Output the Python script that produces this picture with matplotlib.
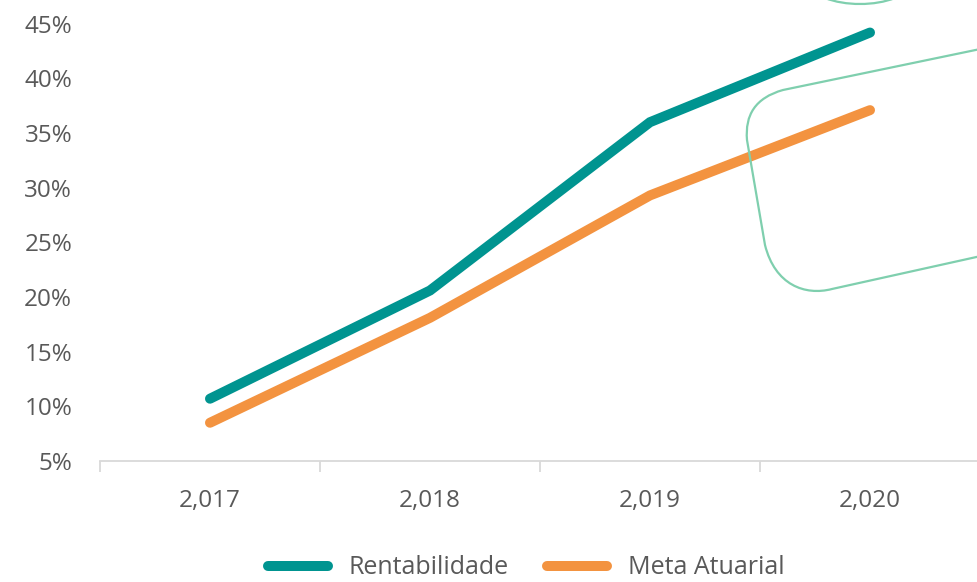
import matplotlib
matplotlib.use("Agg")
import matplotlib.pyplot as plt
from matplotlib.path import Path
from matplotlib.patches import PathPatch
import numpy as np

years = ["2,017", "2,018", "2,019", "2,020"]
rentabilidade = [10.7, 20.6, 36.0, 44.2]
meta_atuarial = [8.5, 18.1, 29.3, 37.1]
y_ticks = [5, 10, 15, 20, 25, 30, 35, 40, 45]

W, H = 978, 582
fig = plt.figure(figsize=(W / 100, H / 100), dpi=100)
ax = fig.add_axes([100 / W, (H - 461) / H, 880 / W, 461 / H])

teal = "#009490"
orange = "#F39340"
txt = "#595959"
font = "Open Sans"

x = np.arange(len(years))
ax.plot(x, rentabilidade, color=teal, lw=7.2, solid_capstyle="round",
        solid_joinstyle="miter", label="Rentabilidade", zorder=3)
ax.plot(x, meta_atuarial, color=orange, lw=7.2, solid_capstyle="round",
        solid_joinstyle="miter", label="Meta Atuarial", zorder=3)

ax.set_xlim(-0.5, len(years) - 0.5)
ax.set_ylim(5, 5 + 461 / 10.93)
ax.set_yticks(y_ticks)
ax.set_yticklabels([f"{v}%" for v in y_ticks], fontsize=17.5, color=txt, family=font)
ax.tick_params(axis="y", length=0, pad=20)

ax.set_xticks(np.arange(-0.5, len(years), 1.0))
ax.set_xticklabels([])
ax.tick_params(axis="x", which="major", length=8, color="#d9d9d9", width=1.3, direction="out")
ax.set_xticks(x, minor=True)
ax.set_xticklabels(years, minor=True, fontsize=17.5, color=txt, family=font)
ax.tick_params(axis="x", which="minor", length=0, pad=20)

for s in ["top", "right", "left"]:
    ax.spines[s].set_visible(False)
ax.spines["bottom"].set_color("#d9d9d9")
ax.spines["bottom"].set_linewidth(1.3)

# decorative rounded outlines (figure pixel coordinates)
def fpath(pts, codes):
    pts = [(px / W, 1 - py / H) for px, py in pts]
    return Path(pts, codes)

deco = "#7fcfae"
P = Path
shape1 = fpath(
    [(990, 47), (783, 90), (755, 98), (745, 115), (747, 140),
     (765, 245), (775, 285), (805, 296), (832, 289), (990, 254)],
    [P.MOVETO, P.LINETO, P.CURVE4, P.CURVE4, P.CURVE4,
     P.LINETO, P.CURVE4, P.CURVE4, P.CURVE4, P.LINETO])
fig.patches.append(PathPatch(shape1, transform=fig.transFigure, fill=False,
                             edgecolor=deco, lw=1.6, zorder=1))
shape2 = fpath([(825, -2), (845, 6), (875, 6), (895, -2)],
               [P.MOVETO, P.CURVE4, P.CURVE4, P.CURVE4])
fig.patches.append(PathPatch(shape2, transform=fig.transFigure, fill=False,
                             edgecolor=deco, lw=1.6, zorder=1))

leg = fig.legend(loc="center", bbox_to_anchor=(526 / W, 1 - 568 / H), ncol=2,
                 frameon=False, handlelength=2.4, handletextpad=0.85, columnspacing=1.5,
                 prop={"family": font, "size": 18})
for t in leg.get_texts():
    t.set_color(txt)

fig.savefig("out.png", dpi=100)
